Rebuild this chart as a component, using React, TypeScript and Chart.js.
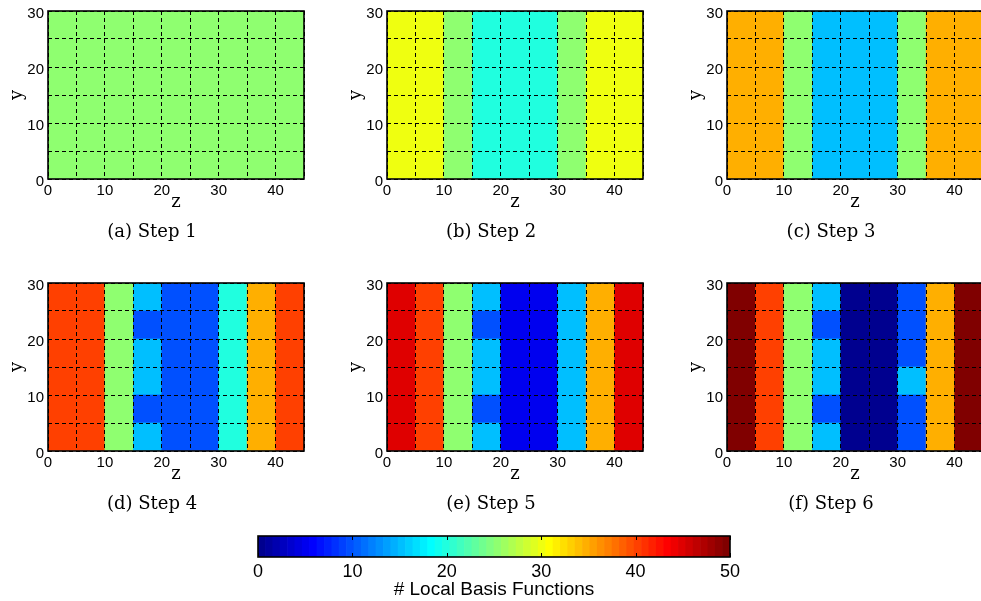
import React, { useEffect, useRef } from 'react';
import { Chart, registerables } from 'chart.js';

Chart.register(...registerables);

// ---- data -----------------------------------------------------------
const zCells = [2.5, 7.5, 12.5, 17.5, 22.5, 27.5, 32.5, 37.5, 42.5];
const yBands: [number, number][] = [[0, 5], [5, 10], [10, 15], [15, 20], [20, 25], [25, 30]];
const xTickLabels = [0, 10, 20, 30, 40];
const yTickLabels = [0, 10, 20, 30];
const cbTickLabels = [0, 10, 20, 30, 40, 50];

// rows listed from y = 0-5 (bottom) to y = 25-30 (top); 9 z-cells each
const step1 = [
  [25, 25, 25, 25, 25, 25, 25, 25, 25],
  [25, 25, 25, 25, 25, 25, 25, 25, 25],
  [25, 25, 25, 25, 25, 25, 25, 25, 25],
  [25, 25, 25, 25, 25, 25, 25, 25, 25],
  [25, 25, 25, 25, 25, 25, 25, 25, 25],
  [25, 25, 25, 25, 25, 25, 25, 25, 25],
];
const step2 = [
  [30, 30, 25, 20, 20, 20, 25, 30, 30],
  [30, 30, 25, 20, 20, 20, 25, 30, 30],
  [30, 30, 25, 20, 20, 20, 25, 30, 30],
  [30, 30, 25, 20, 20, 20, 25, 30, 30],
  [30, 30, 25, 20, 20, 20, 25, 30, 30],
  [30, 30, 25, 20, 20, 20, 25, 30, 30],
];
const step3 = [
  [35, 35, 25, 15, 15, 15, 25, 35, 35],
  [35, 35, 25, 15, 15, 15, 25, 35, 35],
  [35, 35, 25, 15, 15, 15, 25, 35, 35],
  [35, 35, 25, 15, 15, 15, 25, 35, 35],
  [35, 35, 25, 15, 15, 15, 25, 35, 35],
  [35, 35, 25, 15, 15, 15, 25, 35, 35],
];
const step4 = [
  [40, 40, 25, 15, 10, 10, 20, 35, 40],
  [40, 40, 25, 10, 10, 10, 20, 35, 40],
  [40, 40, 25, 15, 10, 10, 20, 35, 40],
  [40, 40, 25, 15, 10, 10, 20, 35, 40],
  [40, 40, 25, 10, 10, 10, 20, 35, 40],
  [40, 40, 25, 15, 10, 10, 20, 35, 40],
];
const step5 = [
  [45, 40, 25, 15, 5, 5, 15, 35, 45],
  [45, 40, 25, 10, 5, 5, 15, 35, 45],
  [45, 40, 25, 15, 5, 5, 15, 35, 45],
  [45, 40, 25, 15, 5, 5, 15, 35, 45],
  [45, 40, 25, 10, 5, 5, 15, 35, 45],
  [45, 40, 25, 15, 5, 5, 15, 35, 45],
];
const step6 = [
  [50, 40, 25, 15, 0, 0, 10, 35, 50],
  [50, 40, 25, 10, 0, 0, 10, 35, 50],
  [50, 40, 25, 15, 0, 0, 15, 35, 50],
  [50, 40, 25, 15, 0, 0, 10, 35, 50],
  [50, 40, 25, 10, 0, 0, 10, 35, 50],
  [50, 40, 25, 15, 0, 0, 10, 35, 50],
];
const captions = ['(a) Step 1', '(b) Step 2', '(c) Step 3', '(d) Step 4', '(e) Step 5', '(f) Step 6'];
const steps = [step1, step2, step3, step4, step5, step6];

const CMIN = 0;
const CMAX = 50;
const NLEV = 64;

// ---- MATLAB jet(64) colormap ---------------------------------------------
function jetU(i: number) {
  if (i < 1 || i > 47) return 0;
  if (i <= 16) return i / 16;
  if (i <= 31) return 1;
  return (48 - i) / 16;
}
function jetColor(k: number) {
  const r = jetU(k - 24), g = jetU(k - 8), b = jetU(k + 8);
  return `rgb(${Math.round(r * 255)},${Math.round(g * 255)},${Math.round(b * 255)})`;
}
function valueColor(v: number) {
  let k = Math.floor(((v - CMIN) / (CMAX - CMIN)) * NLEV) + 1;
  k = Math.max(1, Math.min(NLEV, k));
  return jetColor(k);
}

const boxPlugin = {
  id: 'box',
  afterDraw(chart: any) {
    const { ctx, chartArea: a } = chart;
    ctx.save();
    ctx.strokeStyle = '#000';
    ctx.lineWidth = 1.6;
    ctx.strokeRect(a.left, a.top, a.right - a.left, a.bottom - a.top);
    ctx.restore();
  },
};

const cbTicksPlugin = {
  id: 'cbticks',
  afterDraw(chart: any) {
    const { ctx, chartArea: a } = chart;
    const xs = chart.scales.x;
    ctx.save();
    ctx.strokeStyle = '#000';
    ctx.lineWidth = 1;
    cbTickLabels.forEach((t) => {
      const px = Math.round(xs.getPixelForValue(t)) + 0.5;
      ctx.beginPath();
      ctx.moveTo(px, a.top);
      ctx.lineTo(px, a.top + 4);
      ctx.moveTo(px, a.bottom);
      ctx.lineTo(px, a.bottom - 4);
      ctx.stroke();
    });
    ctx.restore();
  },
};

const PL = 48, PT = 10, PR = 14, PW = 256, PH = 171, XH = 34, TITLE_PAD = 10, TITLE_FS = 18;
const CW = PL + PW + PR;
const CH = PT + PH + XH + TITLE_PAD + TITLE_FS;

function Panel({ values, caption, left, top }: { values: number[][]; caption: string; left: number; top: number }) {
  const ref = useRef<HTMLCanvasElement>(null);
  useEffect(() => {
    const datasets = yBands.map((band, r) => ({
      data: zCells.map((z) => ({ x: z, y: band })),
      backgroundColor: values[r].map((v) => valueColor(v)),
      borderWidth: 0,
      grouped: false,
      barPercentage: 1,
      categoryPercentage: 1,
    }));
    const chart = new Chart(ref.current as HTMLCanvasElement, {
      type: 'bar',
      data: { datasets } as any,
      plugins: [boxPlugin],
      options: {
        responsive: false,
        animation: false,
        layout: { padding: { left: 0, top: PT, right: PR, bottom: 0 } },
        plugins: {
          legend: { display: false },
          tooltip: { enabled: false },
          title: {
            display: true,
            text: caption,
            position: 'bottom',
            color: '#000',
            font: { family: 'DejaVu Serif', size: TITLE_FS, weight: 'normal', lineHeight: 1 },
            padding: { top: TITLE_PAD, bottom: 0 },
          },
        },
        scales: {
          x: {
            type: 'linear',
            min: 0,
            max: 45,
            offset: false,
            grid: { color: '#000', lineWidth: 1, drawTicks: false, offset: false, z: 1 },
            border: { display: false, dash: [4, 3] },
            ticks: {
              stepSize: 5,
              autoSkip: false,
              maxRotation: 0,
              padding: 3,
              color: '#000',
              font: { family: 'Liberation Sans', size: 15 },
              callback: (v: any) => (xTickLabels.includes(Number(v)) ? String(v) : ''),
            },
            title: {
              display: true,
              text: 'z',
              color: '#000',
              font: { family: 'DejaVu Serif', size: 18 },
              padding: { top: 0, bottom: 0 },
            },
            afterFit: (s: any) => {
              s.height = XH;
            },
          },
          y: {
            type: 'linear',
            min: 0,
            max: 30,
            grid: { color: '#000', lineWidth: 1, drawTicks: false, z: 1 },
            border: { display: false, dash: [4, 3] },
            ticks: {
              stepSize: 5,
              autoSkip: false,
              padding: 4,
              labelOffset: 3,
              color: '#000',
              font: { family: 'Liberation Sans', size: 15 },
              callback: (v: any) => (yTickLabels.includes(Number(v)) ? String(v) : ''),
            },
            title: {
              display: true,
              text: 'y',
              color: '#000',
              font: { family: 'DejaVu Serif', size: 18 },
              padding: { top: 7, bottom: 0 },
            },
            afterFit: (s: any) => {
              s.width = PL;
            },
          },
        },
      } as any,
    });
    return () => chart.destroy();
  }, [values, caption]);
  return (
    <canvas
      ref={ref}
      width={CW}
      height={CH}
      style={{ position: 'absolute', left: left - PL, top: top - PT, width: CW, height: CH }}
    />
  );
}

function ColorBar() {
  const ref = useRef<HTMLCanvasElement>(null);
  useEffect(() => {
    const levels = Array.from({ length: NLEV }, (_, i) => i);
    const step = (CMAX - CMIN) / NLEV;
    const chart = new Chart(ref.current as HTMLCanvasElement, {
      type: 'bar',
      data: {
        labels: ['cb'],
        datasets: [
          {
            data: levels.map((i) => ({ y: 'cb', x: [CMIN + i * step, CMIN + (i + 1) * step] })),
            backgroundColor: levels.map((i) => jetColor(i + 1)),
            borderWidth: 0,
            grouped: false,
            barPercentage: 1,
            categoryPercentage: 1,
          },
        ],
      } as any,
      plugins: [cbTicksPlugin, boxPlugin],
      options: {
        indexAxis: 'y',
        responsive: false,
        animation: false,
        layout: { padding: { left: 18, top: 8, right: 20, bottom: 0 } },
        plugins: { legend: { display: false }, tooltip: { enabled: false }, title: { display: false } },
        scales: {
          x: {
            type: 'linear',
            min: CMIN,
            max: CMAX,
            grid: { display: false, drawTicks: false },
            border: { display: false },
            ticks: {
              stepSize: 10,
              padding: 4,
              maxRotation: 0,
              color: '#000',
              font: { family: 'Liberation Sans', size: 18 },
              callback: (v: any) => (cbTickLabels.includes(Number(v)) ? String(v) : ''),
            },
            title: {
              display: true,
              text: '# Local Basis Functions',
              color: '#000',
              font: { family: 'Liberation Sans', size: 19 },
              padding: { top: 0, bottom: 0 },
            },
            afterFit: (s: any) => {
              s.height = 44;
            },
          },
          y: { type: 'category', display: false },
        },
      } as any,
    });
    return () => chart.destroy();
  }, []);
  return (
    <canvas ref={ref} width={510} height={73} style={{ position: 'absolute', left: 240, top: 528, width: 510, height: 73 }} />
  );
}

const panelLefts = [48, 387, 727];
const panelTops = [8, 280];

export default function App() {
  return (
    <div
      style={{
        position: 'absolute',
        left: 0,
        top: 0,
        width: 981,
        height: 601,
        overflow: 'hidden',
        background: '#fff',
      }}
    >
      {steps.map((s, i) => (
        <Panel
          key={i}
          values={s}
          caption={captions[i]}
          left={panelLefts[i % 3]}
          top={panelTops[Math.floor(i / 3)]}
        />
      ))}
      <ColorBar />
    </div>
  );
}
